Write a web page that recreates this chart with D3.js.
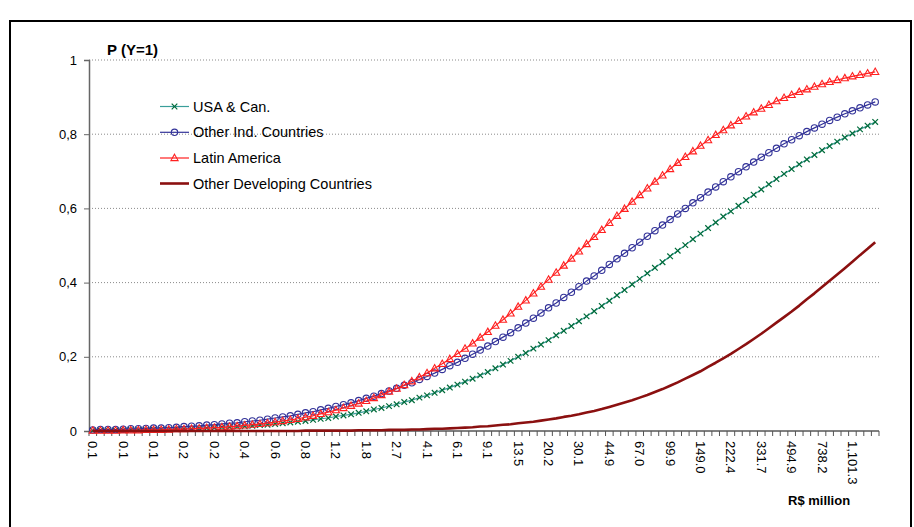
<!DOCTYPE html>
<html>
<head>
<meta charset="utf-8">
<script src="https://cdn.jsdelivr.net/npm/d3@7"></script>
<style>
  body { margin: 0; background: #fff; }
  svg { display: block; }
  text { font-family: "Liberation Sans", Arial, sans-serif; fill: #000; }
</style>
</head>
<body>
<svg id="chart" width="914" height="527"></svg>
<script>
// Firm size categories (R$ million); every fourth category carries a label
const xTickLabels = ["0.1","0.1","0.1","0.2","0.2","0.4","0.6","0.8","1.2","1.8","2.7","4.1","6.1","9.1",
  "13.5","20.2","30.1","44.9","67.0","99.9","149.0","222.4","331.7","494.9","738.2","1,101.3"];
const labelEvery = 4;

const yTicks = [0, 0.2, 0.4, 0.6, 0.8, 1];

const seriesNames = ["USA & Can.", "Other Ind. Countries", "Latin America", "Other Developing Countries"];

// Predicted probability P(Y=1) for each size category
const usaCan = [
  0.001,0.002,0.002,0.002,0.002,0.003,0.003,0.003,0.004,0.004,
  0.004,0.005,0.006,0.006,0.007,0.008,0.009,0.010,0.011,0.012,
  0.013,0.014,0.016,0.017,0.019,0.021,0.023,0.025,0.027,0.030,
  0.033,0.035,0.039,0.042,0.045,0.049,0.053,0.058,0.062,0.067,
  0.072,0.078,0.083,0.090,0.096,0.103,0.110,0.117,0.125,0.133,
  0.141,0.150,0.159,0.169,0.179,0.189,0.200,0.210,0.222,0.233,
  0.245,0.258,0.270,0.283,0.296,0.309,0.323,0.337,0.351,0.366,
  0.380,0.395,0.410,0.425,0.440,0.455,0.471,0.486,0.501,0.517,
  0.532,0.547,0.562,0.578,0.592,0.607,0.622,0.637,0.651,0.665,
  0.679,0.693,0.706,0.719,0.732,0.744,0.757,0.768,0.780,0.791,
  0.802,0.813,0.823,0.833];

const otherInd = [
  0.003,0.004,0.004,0.004,0.005,0.006,0.006,0.007,0.008,0.008,
  0.009,0.010,0.012,0.013,0.014,0.016,0.017,0.019,0.021,0.022,
  0.025,0.027,0.029,0.032,0.035,0.038,0.041,0.045,0.049,0.052,
  0.057,0.061,0.066,0.071,0.076,0.082,0.088,0.094,0.101,0.108,
  0.115,0.123,0.130,0.139,0.147,0.156,0.166,0.176,0.185,0.196,
  0.207,0.218,0.229,0.241,0.253,0.265,0.278,0.291,0.304,0.318,
  0.332,0.345,0.360,0.374,0.389,0.404,0.418,0.433,0.449,0.464,
  0.479,0.494,0.509,0.525,0.540,0.555,0.570,0.585,0.600,0.615,
  0.629,0.644,0.658,0.672,0.685,0.699,0.712,0.725,0.738,0.750,
  0.762,0.774,0.785,0.796,0.807,0.817,0.827,0.837,0.846,0.855,
  0.863,0.871,0.879,0.887];

const latinAmerica = [
  0.001,0.001,0.001,0.001,0.002,0.002,0.002,0.003,0.003,0.003,
  0.004,0.005,0.005,0.006,0.007,0.008,0.009,0.010,0.012,0.013,
  0.015,0.017,0.019,0.021,0.024,0.027,0.030,0.033,0.037,0.041,
  0.046,0.051,0.056,0.062,0.068,0.074,0.081,0.089,0.097,0.106,
  0.114,0.124,0.134,0.145,0.156,0.169,0.181,0.194,0.208,0.222,
  0.236,0.252,0.267,0.284,0.300,0.317,0.335,0.352,0.371,0.389,
  0.408,0.427,0.446,0.465,0.484,0.504,0.523,0.542,0.561,0.580,
  0.599,0.618,0.636,0.654,0.672,0.689,0.706,0.723,0.739,0.754,
  0.769,0.784,0.798,0.811,0.824,0.836,0.848,0.859,0.869,0.879,
  0.889,0.898,0.906,0.914,0.921,0.928,0.935,0.941,0.946,0.951,
  0.956,0.960,0.964,0.968];

const otherDev = [
  0.000,0.000,0.000,0.000,0.000,0.000,0.000,0.000,0.000,0.000,
  0.000,0.000,0.000,0.000,0.000,0.000,0.000,0.000,0.000,0.000,
  0.000,0.000,0.000,0.000,0.000,0.000,0.000,0.000,0.001,0.001,
  0.001,0.001,0.001,0.001,0.001,0.002,0.002,0.002,0.002,0.003,
  0.003,0.003,0.004,0.004,0.005,0.006,0.006,0.007,0.008,0.009,
  0.010,0.012,0.013,0.015,0.017,0.018,0.021,0.023,0.025,0.028,
  0.031,0.034,0.038,0.041,0.045,0.050,0.054,0.059,0.065,0.071,
  0.077,0.083,0.090,0.097,0.105,0.113,0.122,0.131,0.141,0.151,
  0.161,0.173,0.184,0.196,0.208,0.221,0.234,0.248,0.262,0.277,
  0.292,0.307,0.322,0.338,0.355,0.371,0.388,0.405,0.422,0.439,
  0.456,0.474,0.491,0.509];

const svg = d3.select("#chart");

// Outer chart frame
svg.append("rect")
  .attr("x", 10).attr("y", 21).attr("width", 901).attr("height", 530)
  .attr("fill", "none").attr("stroke", "#000").attr("stroke-width", 2);

const plot = { left: 89, right: 879, top: 60, bottom: 431 };
const idx = d3.range(usaCan.length);
const x = d3.scaleBand().domain(idx).range([plot.left, plot.right]);
const bw = x.bandwidth();
const cx = i => x(i) + bw / 2;
const y = d3.scaleLinear().domain([0, 1]).range([plot.bottom, plot.top]);

// Dotted horizontal gridlines
svg.append("g").selectAll("line")
  .data(yTicks.filter(t => t > 0))
  .join("line")
  .attr("x1", plot.left).attr("x2", plot.right)
  .attr("y1", d => y(d)).attr("y2", d => y(d))
  .attr("stroke", "#8a8a8a").attr("stroke-width", 1)
  .attr("stroke-dasharray", "1,2");

// Y axis
const yAxis = svg.append("g")
  .attr("transform", `translate(${plot.left},0)`)
  .call(d3.axisLeft(y).tickValues(yTicks).tickSize(5).tickPadding(7)
    .tickFormat(d => d === 0 ? "0" : d === 1 ? "1" : d3.format(".1f")(d).replace(".", ",")));
yAxis.select(".domain").attr("stroke", "#666").attr("stroke-width", 1.5);
yAxis.selectAll(".tick line").attr("stroke", "#666");
yAxis.selectAll("text").style("font-size", "13px").attr("fill", "#000");

// X axis line and category ticks
const xAxis = svg.append("g");
xAxis.append("line")
  .attr("x1", plot.left).attr("x2", plot.right)
  .attr("y1", y(0)).attr("y2", y(0))
  .attr("stroke", "#808080").attr("stroke-width", 2);
xAxis.selectAll("line.tick")
  .data(idx.concat([idx.length]))
  .join("line").attr("class", "tick")
  .attr("x1", i => i < idx.length ? x(i) : plot.right)
  .attr("x2", i => i < idx.length ? x(i) : plot.right)
  .attr("y1", y(0)).attr("y2", y(0) + 5)
  .attr("stroke", "#555").attr("stroke-width", 1);

// Rotated category labels
xAxis.selectAll("text")
  .data(idx.filter(i => i % labelEvery === 0 && xTickLabels[i / labelEvery] !== undefined))
  .join("text")
  .attr("transform", i => `translate(${cx(i)},${y(0) + 10}) rotate(90)`)
  .attr("dominant-baseline", "central")
  .attr("text-anchor", "start")
  .style("font-size", "13px")
  .attr("fill", "#222")
  .text(i => xTickLabels[i / labelEvery]);

// Axis titles
svg.append("text").attr("x", 107).attr("y", 55)
  .style("font-size", "15px").style("font-weight", "bold").text("P (Y=1)");
svg.append("text").attr("x", 788).attr("y", 505)
  .style("font-size", "13px").style("font-weight", "bold").text("R$ million");

// Series styling
const series = [
  { name: seriesNames[0], values: usaCan, line: "#3a9e9a", mark: "#006b3a", width: 1.2, marker: "x" },
  { name: seriesNames[1], values: otherInd, line: "#333399", mark: "#333399", width: 1.2, marker: "circle" },
  { name: seriesNames[2], values: latinAmerica, line: "#ff2020", mark: "#ff2020", width: 1.2, marker: "triangle" },
  { name: seriesNames[3], values: otherDev, line: "#8b1010", mark: "#8b1010", width: 2.6, marker: null }
];

const lineGen = d3.line().x((d, i) => cx(i)).y(d => y(d));

function drawMarker(sel, s) {
  if (s.marker === "x") {
    sel.append("path").attr("d", "M-2.8,-2.8L2.8,2.8M-2.8,2.8L2.8,-2.8")
      .attr("stroke", s.mark).attr("stroke-width", 1.2).attr("fill", "none");
  } else if (s.marker === "circle") {
    sel.append("circle").attr("r", 3.2)
      .attr("fill", "none").attr("stroke", s.mark).attr("stroke-width", 1.1);
  } else if (s.marker === "triangle") {
    sel.append("path").attr("d", "M0,-3.8L3.6,2.6L-3.6,2.6Z")
      .attr("fill", "none").attr("stroke", s.mark).attr("stroke-width", 1.1);
  }
}

series.forEach(s => {
  const g = svg.append("g");
  g.append("path").datum(s.values)
    .attr("d", lineGen)
    .attr("fill", "none").attr("stroke", s.line).attr("stroke-width", s.width)
    .attr("stroke-linejoin", "round");
  if (s.marker) {
    g.selectAll("g.m").data(s.values).join("g").attr("class", "m")
      .attr("transform", (d, i) => `translate(${cx(i)},${y(d)})`)
      .each(function () { drawMarker(d3.select(this), s); });
  }
});

// Legend
const legend = svg.append("g");
const legendRows = [106.5, 132.3, 158, 183.5];
series.forEach((s, k) => {
  const row = legend.append("g").attr("transform", `translate(160,${legendRows[k]})`);
  row.append("line").attr("x1", 0).attr("x2", 29).attr("y1", 0).attr("y2", 0)
    .attr("stroke", s.line).attr("stroke-width", s.width);
  if (s.marker) {
    const m = row.append("g").attr("transform", "translate(14.5,0)");
    drawMarker(m, s);
  }
  row.append("text").attr("x", 33).attr("y", 0)
    .attr("dominant-baseline", "central")
    .style("font-size", "14.5px").text(s.name);
});
</script>
</body>
</html>
